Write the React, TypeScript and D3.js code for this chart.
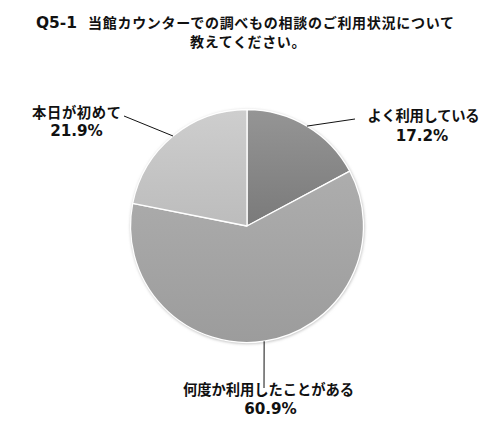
import React from "react";
import * as d3 from "d3";

const titleQ = "Q5-1";
const titleLines = ["当館カウンターでの調べもの相談のご利用状況について", "教えてください。"];
const categories = ["よく利用している", "何度か利用したことがある", "本日が初めて"];
const values = [17.2, 60.9, 21.9];
const valueLabels = ["17.2%", "60.9%", "21.9%"];
const colorsTop = ["#959595", "#adadad", "#cecece"];
const colorsBottom = ["#7a7a7a", "#9c9c9c", "#bcbcbc"];

// label layout: [lineEndX, lineEndY, nameX, nameLen, nameY, pctX, pctY]
const labelLayout: [number, number, number, number, number, number, number][] = [
  [355, 119, 367.5, 112, 120.5, 422, 141],
  [264, 388, 183, 171, 395, 270.5, 414.3],
  [124, 116, 32, 89, 118, 76.5, 135.5],
];

export default function App() {
  const W = 500, H = 436;
  const cx = 247, cy = 226, r = 116.5;
  const pie = d3.pie<number>().sort(null).value((d) => d)(values);
  const arc = d3.arc<d3.PieArcDatum<number>>().innerRadius(0).outerRadius(r);
  const cjk = "'Noto Sans CJK JP', sans-serif";
  const lat = "'DejaVu Sans', 'Noto Sans CJK JP', sans-serif";
  return (
    <svg width={W} height={H} style={{ display: "block", position: "absolute", left: 0, top: 0 }}>
      <defs>
        {values.map((_, i) => (
          <linearGradient key={i} id={`g${i}`} x1="0" y1="0" x2="0" y2="1">
            <stop offset="0" stopColor={colorsTop[i]} />
            <stop offset="1" stopColor={colorsBottom[i]} />
          </linearGradient>
        ))}
        <filter id="sh" x="-10%" y="-10%" width="120%" height="120%">
          <feGaussianBlur stdDeviation="1.5" />
        </filter>
      </defs>
      <rect width={W} height={H} fill="#fff" />
      <text x={36} y={28} fontFamily={lat} fontWeight={700} fontSize={15.5} fill="#111" textLength={41} lengthAdjust="spacingAndGlyphs">
        {titleQ}
      </text>
      <text x={88} y={28} fontFamily={cjk} fontWeight={700} fontSize={14} fill="#111" textLength={366} lengthAdjust="spacing">
        {titleLines[0]}
      </text>
      <text x={190} y={47} fontFamily={cjk} fontWeight={700} fontSize={14} fill="#111" textLength={115.5} lengthAdjust="spacing">
        {titleLines[1]}
      </text>
      <g transform={`translate(${cx},${cy})`}>
        <circle r={r + 0.5} cx={0.5} cy={0.8} fill="#bbb" filter="url(#sh)" />
        {pie.map((p, i) => (
          <path key={i} d={arc(p) || ""} fill={`url(#g${i})`} stroke="#fff" strokeWidth={1.3} strokeLinejoin="round" />
        ))}
      </g>
      {pie.map((p, i) => {
        const a = (p.startAngle + p.endAngle) / 2;
        const sx = cx + r * Math.sin(a);
        const sy = cy - r * Math.cos(a);
        const [ex, ey, nx, nl, ny, px, py] = labelLayout[i];
        return (
          <g key={i}>
            <line x1={sx} y1={sy} x2={ex} y2={ey} stroke="#111" strokeWidth={1} />
            <text x={nx} y={ny} fontFamily={cjk} fontWeight={700} fontSize={14.3} fill="#111" textLength={nl} lengthAdjust="spacing">
              {categories[i]}
            </text>
            <text x={px} y={py} textAnchor="middle" fontFamily={lat} fontWeight={700} fontSize={15.2} fill="#111">
              {valueLabels[i]}
            </text>
          </g>
        );
      })}
    </svg>
  );
}
